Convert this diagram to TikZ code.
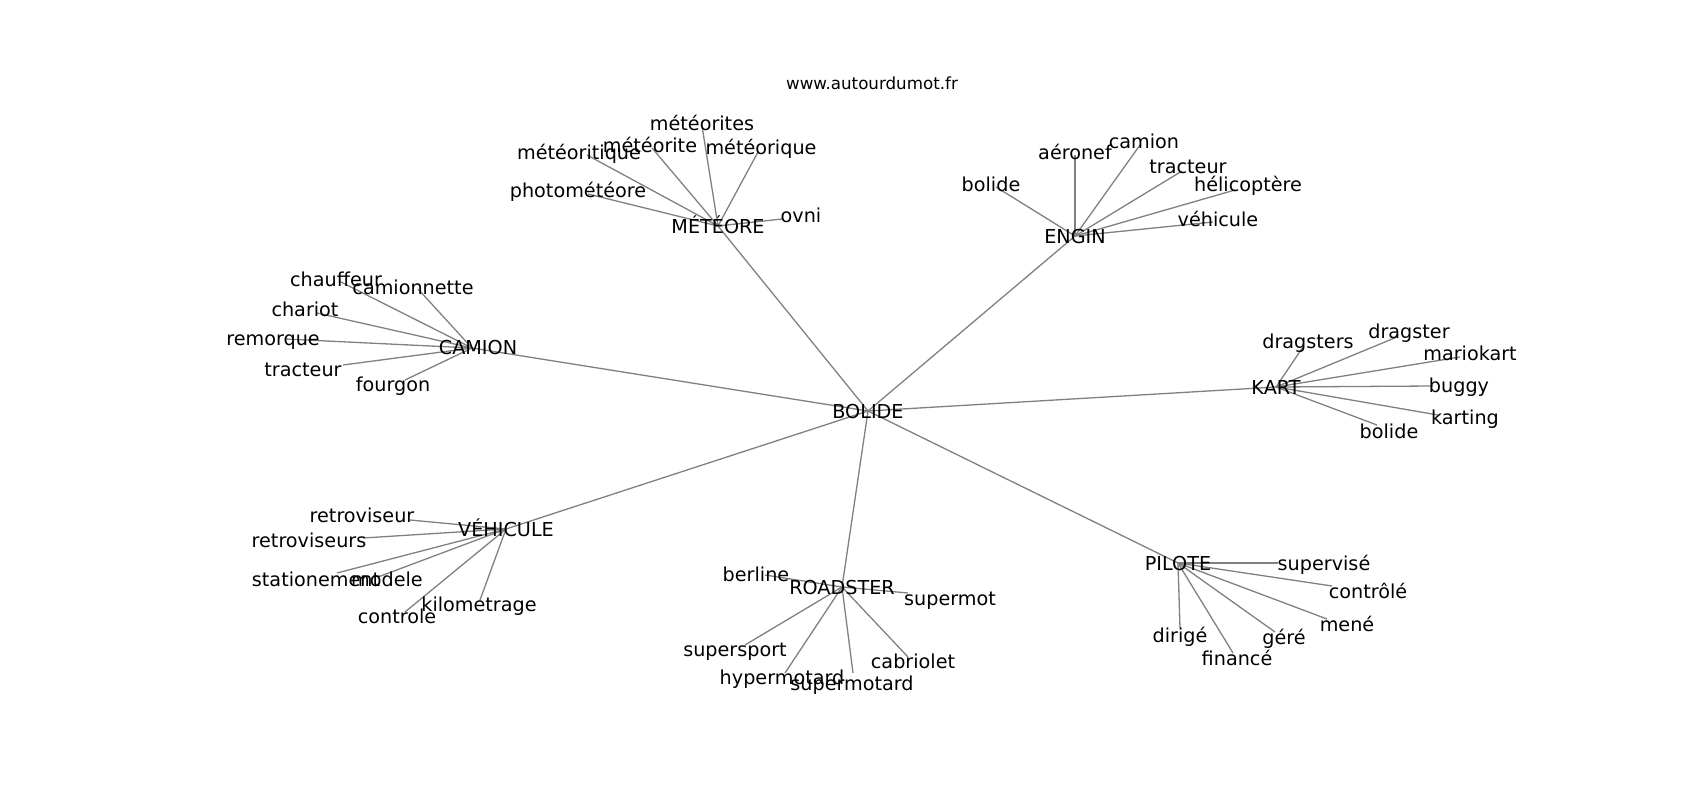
\documentclass[tikz,border=0pt]{standalone}
\usepackage{fontspec}
\setmainfont{DejaVu Sans}
\usetikzlibrary{backgrounds}
\definecolor{edgegray}{RGB}{128,128,128}
\tikzset{
  lab/.style={font=\fontsize{19.2}{21}\selectfont, inner sep=0pt, text height=14pt, text depth=0pt, anchor=center},
  ttl/.style={font=\fontsize{16.7}{18}\selectfont, inner sep=0pt, text height=12.2pt, text depth=0pt, anchor=center},
  edge/.style={draw=edgegray, line width=1.3pt}
}
\newcommand{\lk}[4]{\draw[edge] (#1.center) -- ([shift={(#3,#4)}]#2.center);}
\begin{document}
\begin{tikzpicture}[x=1pt,y=-1pt]
\useasboundingbox (0,0) rectangle (1700,800);
\node[ttl] (title) at (872,83) {www.autourdumot.fr};
% hubs
\node[lab] (bolide) at (868,411) {BOLIDE};
\node[lab] (meteore) at (718,226) {MÉTÉORE};
\node[lab] (engin) at (1075,236) {ENGIN};
\node[lab] (camion) at (478,347) {CAMION};
\node[lab] (kart) at (1276,387) {KART};
\node[lab] (vehicule) at (506,529) {VÉHICULE};
\node[lab] (roadster) at (842,587) {ROADSTER};
\node[lab] (pilote) at (1178,563) {PILOTE};
% METEORE leaves
\node[lab] (m1) at (702,123) {météorites};
\node[lab] (m2) at (650,145) {météorite};
\node[lab] (m3) at (579,152) {météoritique};
\node[lab] (m4) at (761,147) {météorique};
\node[lab] (m5) at (578,190) {photométéore};
\node[lab] (m6) at (801,215) {ovni};
% ENGIN leaves
\node[lab] (e1) at (991,184) {bolide};
\node[lab] (e2) at (1075,152) {aéronef};
\node[lab] (e3) at (1144,141) {camion};
\node[lab] (e4) at (1188,166) {tracteur};
\node[lab] (e5) at (1248,184) {hélicoptère};
\node[lab] (e6) at (1218,219) {véhicule};
% CAMION leaves
\node[lab] (c1) at (336,279) {chauffeur};
\node[lab] (c2) at (413,287) {camionnette};
\node[lab] (c3) at (305,309) {chariot};
\node[lab] (c4) at (273,338) {remorque};
\node[lab] (c5) at (303,369) {tracteur};
\node[lab] (c6) at (393,384) {fourgon};
% KART leaves
\node[lab] (k1) at (1308,341) {dragsters};
\node[lab] (k2) at (1409,331) {dragster};
\node[lab] (k3) at (1470,353) {mariokart};
\node[lab] (k4) at (1459,385) {buggy};
\node[lab] (k5) at (1465,417) {karting};
\node[lab] (k6) at (1389,431) {bolide};
% VEHICULE leaves
\node[lab] (v1) at (362,515) {retroviseur};
\node[lab] (v2) at (309,540) {retroviseurs};
\node[lab] (v3) at (316,579) {stationement};
\node[lab] (v4) at (387,579) {modele};
\node[lab] (v5) at (397,616) {controle};
\node[lab] (v6) at (479,604) {kilometrage};
% ROADSTER leaves
\node[lab] (r1) at (756,574) {berline};
\node[lab] (r2) at (950,598) {supermot};
\node[lab] (r3) at (735,649) {supersport};
\node[lab] (r4) at (782,677) {hypermotard};
\node[lab] (r5) at (852,683) {supermotard};
\node[lab] (r6) at (913,661) {cabriolet};
% PILOTE leaves
\node[lab] (p1) at (1324,563) {supervisé};
\node[lab] (p2) at (1368,591) {contrôlé};
\node[lab] (p3) at (1347,624) {mené};
\node[lab] (p4) at (1284,637) {géré};
\node[lab] (p5) at (1237,658) {financé};
\node[lab] (p6) at (1180,635) {dirigé};
\begin{scope}[on background layer]
\foreach \h in {meteore,engin,kart,vehicule,roadster,pilote}
  {\draw[edge] (bolide.center) -- (\h.center);}
\draw[edge] (bolide.center) -- ([shift={(-6,1)}]camion.center);
\lk{meteore}{m1}{0}{3}
\lk{meteore}{m2}{2}{3}
\lk{meteore}{m3}{8}{3}
\lk{meteore}{m4}{-3}{5}
\lk{meteore}{m5}{10}{4}
\lk{meteore}{m6}{-19}{4}
\lk{engin}{e1}{5}{3}
\lk{engin}{e2}{0}{3}
\lk{engin}{e3}{-4}{4}
\lk{engin}{e4}{-6}{5}
\lk{engin}{e5}{-13}{6}
\lk{engin}{e6}{-5}{3}
\foreach \c/\dx/\dy in {c1/3/2,c2/5/2,c3/12/4,c4/12/1,c5/40/-4,c6/12/-4}
  {\draw[edge] ([shift={(-6,1)}]camion.center) -- ([shift={(\dx,\dy)}]\c.center);}
\lk{kart}{k1}{-5}{6}
\lk{kart}{k2}{-12}{6}
\lk{kart}{k3}{-10}{4}
\lk{kart}{k4}{-26}{1}
\lk{kart}{k5}{-27}{-2}
\lk{kart}{k6}{-12}{-6}
\lk{vehicule}{v1}{48}{5}
\lk{vehicule}{v2}{54}{-2}
\lk{vehicule}{v3}{21}{-6}
\lk{vehicule}{v4}{-9}{-2}
\lk{vehicule}{v5}{8}{-4}
\lk{vehicule}{v6}{1}{-4}
\lk{roadster}{r1}{9}{1}
\lk{roadster}{r2}{-42}{-5}
\lk{roadster}{r3}{10}{-4}
\lk{roadster}{r4}{3}{-4}
\lk{roadster}{r5}{1}{-10}
\lk{roadster}{r6}{-5}{-4}
\lk{pilote}{p1}{-46}{0}
\lk{pilote}{p2}{-36}{-5}
\lk{pilote}{p3}{-20}{-5}
\lk{pilote}{p4}{-9}{-5}
\lk{pilote}{p5}{-4}{-5}
\lk{pilote}{p6}{0}{-7}
\end{scope}
\end{tikzpicture}
\end{document}
